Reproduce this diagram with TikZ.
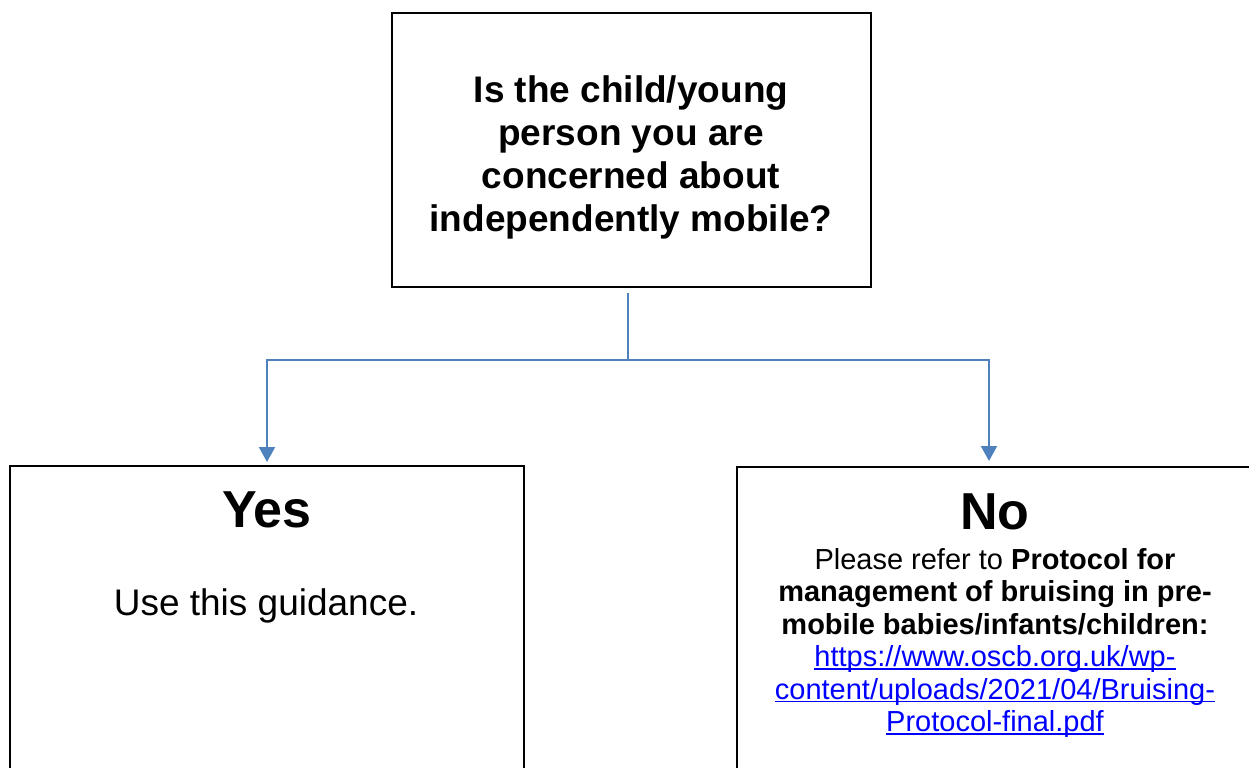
\documentclass[tikz,border=0pt]{standalone}
\usepackage{fontspec}
\setmainfont{Liberation Sans}
\usetikzlibrary{arrows.meta}
\definecolor{flowblue}{RGB}{79,129,189}
\definecolor{linkblue}{RGB}{0,0,255}
\newcommand{\weblink}[1]{\textcolor{linkblue}{\setbox0\hbox{#1}\rlap{\rule[-1.5pt]{\wd0}{0.7pt}}\box0}}

\begin{document}
\begin{tikzpicture}[x=0.5pt,y=-0.5pt,
  box/.style={draw=black, line width=1pt, inner sep=0pt},
  flow/.style={draw=flowblue, line width=1pt},
  tip/.style={-{Triangle[width=8pt,length=7.5pt]}},
  every node/.style={align=center, inner sep=0pt}]

\useasboundingbox (0,0) rectangle (1249,767);
\clip (0,0) rectangle (1249,767);

\node[box, minimum width=239.5pt, minimum height=137pt] (question) at (631.5,150) {};
\node[box, minimum width=257pt, minimum height=200pt]   (yes)      at (267,666) {};
\node[box, minimum width=258pt, minimum height=200pt]   (no)       at (995,667) {};

\node[font=\fontsize{18.5}{21.5}\selectfont\bfseries] (questiontext) at (631,157)
  {Is the child/young\\person you are\\concerned about\\independently mobile?};

\node[font=\fontsize{26}{30}\selectfont\bfseries] (yestitle) at (267,510) {Yes};
\node[font=\fontsize{18.5}{21.5}\selectfont] (yestext) at (266,606) {Use this guidance.};

\node[font=\fontsize{26}{30}\selectfont\bfseries] (notitle) at (995,512) {No};
\node[font=\fontsize{14.5}{16.25}\selectfont] (notext) at (995,643)
  {Please refer to \textbf{Protocol for}\\
   \textbf{management of bruising in pre-}\\
   \textbf{mobile babies/infants/children:}\\
   \weblink{https://www.oscb.org.uk/wp-}\\
   \weblink{content/uploads/2021/04/Bruising-}\\
   \weblink{Protocol-final.pdf}};

\coordinate (stem) at (628,293);
\coordinate (split) at (628,360);
\draw[flow, line width=1.4pt] (stem) -- (split);
\draw[flow, tip, shorten >=1.5pt] (split) -| (yes.north);
\draw[flow, tip, shorten >=2.5pt] (split) -| ([xshift=-3pt]no.north);
\end{tikzpicture}
\end{document}
